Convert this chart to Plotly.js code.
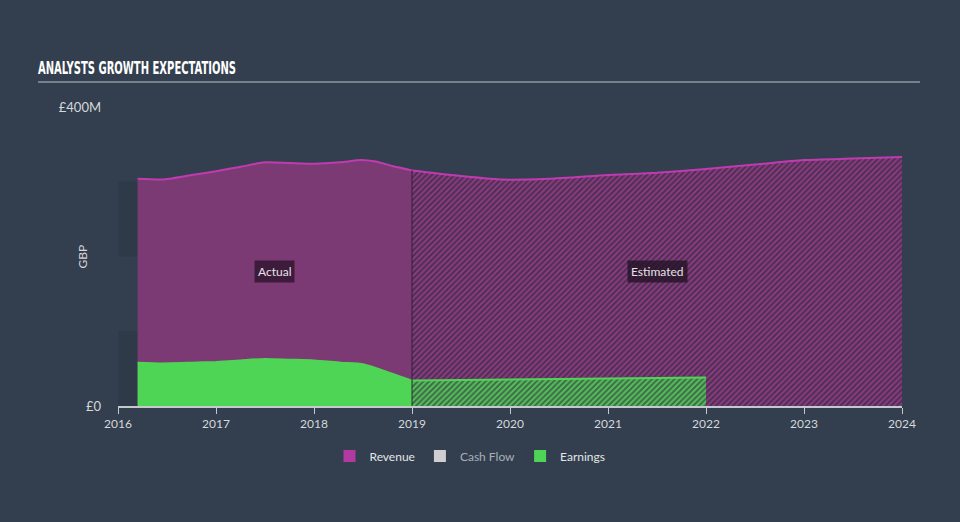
<!DOCTYPE html>
<html>
<head>
<meta charset="utf-8">
<script src="https://cdn.plot.ly/plotly-3.0.1.min.js"></script>
<style>
html,body{margin:0;padding:0;background:#333f4e;}
#chart{width:960px;height:522px;}
</style>
</head>
<body>
<div id="chart"></div>
<script>
// Revenue (GBP millions)
const revActualX = [2016.2, 2016.45, 2016.75, 2017.0, 2017.25, 2017.5, 2017.75, 2018.0, 2018.27, 2018.48, 2018.63, 2018.8, 2019.0];
const revActualY = [304, 303, 309, 314, 320, 326, 325, 324, 326, 329, 327, 321, 315];
const revEstX = [2019.0, 2019.4, 2019.9, 2020.4, 2021.0, 2021.5, 2022.0, 2022.5, 2023.0, 2023.5, 2024.0];
const revEstY = [315, 309, 303, 304, 309, 312, 317, 323, 329, 331, 333];
// Earnings (GBP millions)
const earnActualX = [2016.2, 2016.45, 2016.75, 2017.0, 2017.25, 2017.5, 2017.75, 2018.0, 2018.27, 2018.5, 2018.65, 2019.0];
const earnActualY = [58, 57, 58, 59, 61, 63, 62, 61, 58, 56, 50, 34];
const earnEstX = [2019.0, 2020.0, 2021.0, 2022.0];
const earnEstY = [34, 35.5, 37, 38];
// Axis ticks
const xTickVals = [2016, 2017, 2018, 2019, 2020, 2021, 2022, 2023, 2024];
const yTickVals = [0, 400];
const yTickText = ['£0', '£400M'];
const bandRanges = [[0, 100], [200, 300]];

const revLine = '#c03bb0';
const revFill = '#7c3a74';
const earnColor = '#4fd555';
const font = 'Lato, "Open Sans", sans-serif';

const traces = [
  {x: revActualX, y: revActualY, type: 'scatter', mode: 'lines', fill: 'tozeroy',
   line: {color: revLine, width: 2, shape: 'spline', smoothing: 0.6}, fillcolor: revFill,
   showlegend: false, hoverinfo: 'skip'},
  {x: revEstX, y: revEstY, type: 'scatter', mode: 'lines', fill: 'tozeroy',
   line: {color: revLine, width: 2, shape: 'spline', smoothing: 0.6},
   fillpattern: {shape: '/', fgcolor: '#8d3a83', bgcolor: '#4b3050', size: 4, solidity: 0.5},
   showlegend: false, hoverinfo: 'skip'},
  {x: earnActualX, y: earnActualY, type: 'scatter', mode: 'lines', fill: 'tozeroy',
   line: {color: earnColor, width: 2, shape: 'spline', smoothing: 0.6}, fillcolor: earnColor,
   showlegend: false, hoverinfo: 'skip'},
  {x: earnEstX, y: earnEstY, type: 'scatter', mode: 'lines', fill: 'tozeroy',
   line: {color: earnColor, width: 2},
   fillpattern: {shape: '/', fgcolor: '#55c05a', bgcolor: '#3f6a4a', size: 4, solidity: 0.5},
   showlegend: false, hoverinfo: 'skip'},
  {x: [null], y: [null], type: 'bar', name: 'Revenue', marker: {color: '#b03a9f'}},
  {x: [null], y: [null], type: 'bar', name: '<span style="color:#a9afb6">Cash Flow</span>', marker: {color: '#cfcfcf'}},
  {x: [null], y: [null], type: 'bar', name: 'Earnings', marker: {color: earnColor}}
];

const shapes = bandRanges.map(r => ({
  type: 'rect', xref: 'paper', yref: 'y', x0: 0, x1: 1, y0: r[0], y1: r[1],
  fillcolor: '#2f3a48', line: {width: 0}, layer: 'below'
}));
shapes.push({type: 'line', xref: 'paper', yref: 'paper', x0: -0.102, x1: 1.023, y0: 1.084, y1: 1.084,
  line: {color: '#8e97a1', width: 1.5}});
shapes.push({type: 'line', xref: 'x', yref: 'y', x0: revEstX[0], x1: revEstX[0], y0: 0, y1: revEstY[0],
  line: {color: 'rgba(40,30,50,0.6)', width: 1.5}});

const layout = {
  width: 960, height: 522,
  paper_bgcolor: '#333f4e', plot_bgcolor: '#333f4e',
  margin: {l: 118, r: 58, t: 107, b: 116},
  font: {family: font, color: '#d5d8dc', size: 12},
  title: {text: 'ANALYSTS GROWTH EXPECTATIONS', x: 38/960, xanchor: 'left', xref: 'container',
    y: 1 - 68/522, yanchor: 'middle', yref: 'container',
    font: {family: '"DejaVu Sans Condensed", "Liberation Sans Narrow", sans-serif', size: 17, color: '#ffffff', weight: 'bold'}},
  xaxis: {range: [2016, 2024], tickvals: xTickVals, ticks: 'outside', ticklen: 6, tickcolor: '#c4c9cf',
    showline: true, linecolor: '#c4c9cf', linewidth: 1.5, showgrid: false, zeroline: false,
    tickfont: {size: 12, color: '#d5d8dc'}, fixedrange: true},
  yaxis: {range: [0, 400], tickvals: yTickVals, ticktext: yTickText, showgrid: false, zeroline: false,
    showline: false, ticks: '', ticklabelstandoff: 16, tickfont: {size: 13, color: '#d5d8dc'},
    fixedrange: true},
  shapes: shapes,
  annotations: [
    {x: 2017.6, y: 180, xref: 'x', yref: 'y', text: 'Actual', showarrow: false,
     bgcolor: 'rgba(40,18,40,0.75)', font: {size: 12, color: '#e8e2ea'}, borderpad: 3},
    {x: 2021.5, y: 180, xref: 'x', yref: 'y', text: 'Estimated', showarrow: false,
     bgcolor: 'rgba(35,20,38,0.8)', font: {size: 12, color: '#e8e2ea'}, borderpad: 3},
    {x: (82-118)/784, y: 0.5, xref: 'paper', yref: 'paper', text: 'GBP', textangle: -90, showarrow: false,
     xanchor: 'center', yanchor: 'middle', font: {size: 12, color: '#d5d8dc'}}
  ],
  legend: {orientation: 'h', x: (470-118)/784, xanchor: 'center', y: (406-456)/299, yanchor: 'middle',
    font: {size: 12, color: '#e2e5e8'}, itemwidth: 30, traceorder: 'normal', bgcolor: 'rgba(0,0,0,0)'},
  showlegend: true
};

Plotly.newPlot('chart', traces, layout, {displayModeBar: false, staticPlot: true}).then(function () {
  const t = document.querySelector('.gtitle');
  if (t) { t.setAttribute('textLength', '198'); t.setAttribute('lengthAdjust', 'spacingAndGlyphs'); }
});
</script>
</body>
</html>
